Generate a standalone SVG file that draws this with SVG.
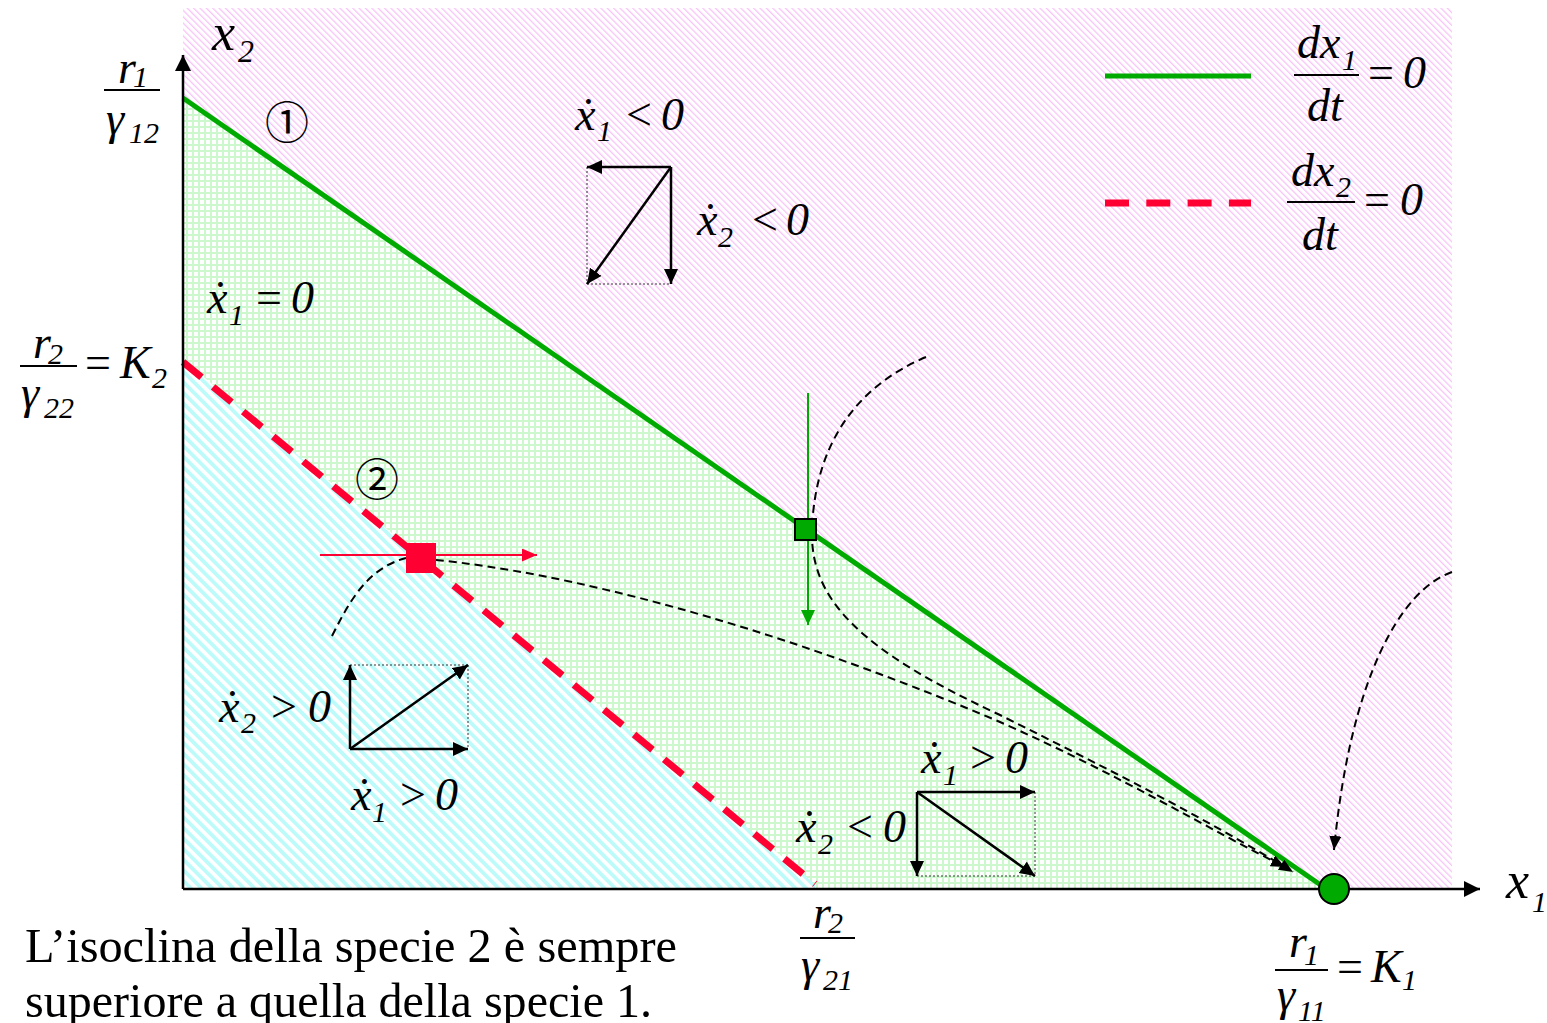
<svg xmlns="http://www.w3.org/2000/svg" width="1547" height="1023" viewBox="0 0 1547 1023" font-family="'Liberation Serif', 'Times New Roman', serif">
<style>
text{font-family:"Liberation Serif","Times New Roman",serif;fill:#000}
.m{font-style:italic;font-size:46px}
.s{font-style:italic;font-size:30px}
.u{font-style:normal;font-size:46px}
.big{font-size:52px}
.c{font-family:"Noto Sans CJK JP","DejaVu Sans",sans-serif;font-size:44px}
.body{font-size:48px}
.fl{stroke:#000;stroke-width:2}
.vec{stroke:#000;stroke-width:2.5;fill:none;marker-end:url(#ah)}
.dot{stroke:#333;stroke-width:1;stroke-dasharray:2 2;fill:none}
.traj{stroke:#000;stroke-width:2;stroke-dasharray:8 5;fill:none}
</style>
<defs>
<pattern id="pk" width="4.5" height="4.5" patternUnits="userSpaceOnUse" patternTransform="rotate(-45)">
<rect width="4.5" height="4.5" fill="#fff"/><rect width="1.3" height="4.5" fill="#f7c4f7"/>
</pattern>
<pattern id="gr" width="6" height="6" patternUnits="userSpaceOnUse">
<rect width="6" height="6" fill="#fff"/><rect width="6" height="2" fill="#cdf8cd"/><rect width="2" height="6" fill="#cdf8cd"/>
</pattern>
<pattern id="cy" width="7.5" height="7.5" patternUnits="userSpaceOnUse" patternTransform="rotate(-45)">
<rect width="7.5" height="7.5" fill="#fff"/><rect width="3.8" height="7.5" fill="#bdfafa"/>
</pattern>
<marker id="ah" markerUnits="userSpaceOnUse" markerWidth="16" markerHeight="16" refX="15" refY="7" orient="auto"><path d="M0,0 L15,7 L0,14 z" fill="#000"/></marker>
<marker id="ax" markerUnits="userSpaceOnUse" markerWidth="18" markerHeight="18" refX="16" refY="8" orient="auto"><path d="M0,0 L16,8 L0,16 z" fill="#000"/></marker>
<marker id="at" markerUnits="userSpaceOnUse" markerWidth="16" markerHeight="14" refX="14" refY="6" orient="auto"><path d="M0,0 L14,6 L0,12 z" fill="#000"/></marker>
<marker id="ar" markerUnits="userSpaceOnUse" markerWidth="16" markerHeight="14" refX="15" refY="6.5" orient="auto"><path d="M0,0 L15,6.5 L0,13 z" fill="#ff0033"/></marker>
<marker id="ag" markerUnits="userSpaceOnUse" markerWidth="16" markerHeight="14" refX="15" refY="7" orient="auto"><path d="M0,0 L15,7 L0,14 z" fill="#00aa00"/></marker>
</defs>

<g id="regions">
<rect x="183" y="8" width="1269" height="881" fill="url(#pk)"/>
<polygon points="183,98 1325,889 183,889" fill="url(#gr)"/>
<polygon points="183,360 815,884 815,889 183,889" fill="url(#cy)"/>
</g>

<g id="isoclines">
<line x1="183" y1="98" x2="1325" y2="888" stroke="#00aa00" stroke-width="5"/>
<line x1="183" y1="362" x2="815" y2="884" stroke="#ff0033" stroke-width="7" stroke-dasharray="24 15"/>
</g>

<g id="axes">
<line x1="183" y1="889" x2="183" y2="55" stroke="#000" stroke-width="2.5" marker-end="url(#ax)"/>
<line x1="183" y1="889" x2="1480" y2="889" stroke="#000" stroke-width="2.5" marker-end="url(#ax)"/>
</g>

<g id="connectors">
<path class="traj" d="M926,357 C860,385 815,440 812,530 C810,600 860,650 1000,715 C1100,765 1200,815 1293,872" marker-end="url(#at)"/>
<path class="traj" d="M436,560 C560,572 760,620 1000,722 C1120,775 1210,830 1285,867" marker-end="url(#at)"/>
<path class="traj" d="M332,636 C350,600 368,568 406,558"/>
<path class="traj" d="M1452,572 C1400,590 1350,680 1334,850" marker-end="url(#at)"/>
<line x1="320" y1="555" x2="537" y2="555" stroke="#ff0033" stroke-width="2" marker-end="url(#ar)"/>
<line x1="808" y1="393" x2="808" y2="625" stroke="#00aa00" stroke-width="2" marker-end="url(#ag)"/>
</g>

<g id="eq-red"><rect x="406" y="543" width="30" height="30" fill="#ff0033"/></g>
<g id="eq-green-sq"><rect x="795" y="519" width="21" height="21" fill="#00aa00" stroke="#000" stroke-width="2"/></g>
<g id="eq-green-dot"><circle cx="1334" cy="889" r="15" fill="#00aa00" stroke="#000" stroke-width="2"/></g>

<g id="vec-top">
<line class="dot" x1="587" y1="167" x2="587" y2="284"/>
<line class="dot" x1="587" y1="284" x2="671" y2="284"/>
<line class="vec" x1="671" y1="167" x2="587" y2="167"/>
<line class="vec" x1="671" y1="167" x2="671" y2="284"/>
<line class="vec" x1="671" y1="167" x2="587" y2="284"/>
</g>
<g id="vec-left">
<line class="dot" x1="350" y1="665" x2="468" y2="665"/>
<line class="dot" x1="468" y1="665" x2="468" y2="749"/>
<line class="vec" x1="350" y1="749" x2="350" y2="665"/>
<line class="vec" x1="350" y1="749" x2="468" y2="749"/>
<line class="vec" x1="350" y1="749" x2="468" y2="665"/>
</g>
<g id="vec-right">
<line class="dot" x1="1035" y1="792" x2="1035" y2="876"/>
<line class="dot" x1="917" y1="876" x2="1035" y2="876"/>
<line class="vec" x1="917" y1="792" x2="1035" y2="792"/>
<line class="vec" x1="917" y1="792" x2="917" y2="876"/>
<line class="vec" x1="917" y1="792" x2="1035" y2="876"/>
</g>

<g id="legend">
<line x1="1105" y1="76" x2="1251" y2="76" stroke="#00aa00" stroke-width="5"/>
<line x1="1105" y1="203" x2="1251" y2="203" stroke="#ff0033" stroke-width="7" stroke-dasharray="24 17.3"/>
<text class="m"><tspan x="1297" y="58">dx</tspan><tspan class="s" x="1342" y="70">1</tspan><tspan x="1307" y="121">dt</tspan><tspan class="u" x="1368" y="88">=</tspan><tspan x="1403" y="88">0</tspan></text>
<line class="fl" x1="1294" y1="75" x2="1359" y2="75"/>
<text class="m"><tspan x="1291" y="186">dx</tspan><tspan class="s" x="1336" y="197">2</tspan><tspan x="1302" y="250">dt</tspan><tspan class="u" x="1364" y="215">=</tspan><tspan x="1400" y="215">0</tspan></text>
<line class="fl" x1="1287" y1="202" x2="1355" y2="202"/>
</g>

<g id="labels">
<text class="m"><tspan class="big" x="212" y="50">x</tspan><tspan class="s" x="238" y="62" style="font-size:32px">2</tspan></text>
<text class="m"><tspan class="big" x="1506" y="898">x</tspan><tspan class="s" x="1532" y="912">1</tspan></text>

<text class="m"><tspan x="118" y="83">r</tspan><tspan class="s" x="133" y="87">1</tspan><tspan x="106" y="134">γ</tspan><tspan class="s" x="129" y="143">12</tspan></text>
<line class="fl" x1="104" y1="90" x2="160" y2="90"/>

<text class="m"><tspan x="33" y="358">r</tspan><tspan class="s" x="48" y="364">2</tspan><tspan x="21" y="408">γ</tspan><tspan class="s" x="44" y="418">22</tspan><tspan class="u" x="85" y="378">=</tspan><tspan x="120" y="378">K</tspan><tspan class="s" x="152" y="388">2</tspan></text>
<line class="fl" x1="20" y1="366" x2="77" y2="366"/>

<text class="m"><tspan x="813" y="928">r</tspan><tspan class="s" x="828" y="933">2</tspan><tspan x="801" y="980">γ</tspan><tspan class="s" x="823" y="990">21</tspan></text>
<line class="fl" x1="800" y1="938" x2="855" y2="938"/>

<text class="m"><tspan x="1289" y="957">r</tspan><tspan class="s" x="1304" y="965">1</tspan><tspan x="1277" y="1010">γ</tspan><tspan class="s" x="1298" y="1021">11</tspan><tspan class="u" x="1337" y="982">=</tspan><tspan x="1371" y="982">K</tspan><tspan class="s" x="1402" y="990">1</tspan></text>
<line class="fl" x1="1275" y1="970" x2="1328" y2="970"/>

<text class="c" x="287" y="139" text-anchor="middle">①</text>
<text class="c" x="377" y="496" text-anchor="middle">②</text>

<text class="m"><tspan x="575" y="130">ẋ</tspan><tspan class="s" x="597" y="141">1</tspan><tspan class="u" x="626" y="130">&lt;</tspan><tspan x="661" y="130">0</tspan></text>
<text class="m"><tspan x="697" y="235">ẋ</tspan><tspan class="s" x="718" y="247">2</tspan><tspan class="u" x="752" y="235">&lt;</tspan><tspan x="786" y="235">0</tspan></text>
<text class="m"><tspan x="207" y="313">ẋ</tspan><tspan class="s" x="229" y="325">1</tspan><tspan class="u" x="256" y="313">=</tspan><tspan x="291" y="313">0</tspan></text>
<text class="m"><tspan x="219" y="722">ẋ</tspan><tspan class="s" x="241" y="733">2</tspan><tspan class="u" x="271" y="722">&gt;</tspan><tspan x="308" y="722">0</tspan></text>
<text class="m"><tspan x="351" y="810">ẋ</tspan><tspan class="s" x="372" y="822">1</tspan><tspan class="u" x="400" y="810">&gt;</tspan><tspan x="435" y="810">0</tspan></text>
<text class="m"><tspan x="921" y="773">ẋ</tspan><tspan class="s" x="943" y="785">1</tspan><tspan class="u" x="970" y="773">&gt;</tspan><tspan x="1005" y="773">0</tspan></text>
<text class="m"><tspan x="796" y="842">ẋ</tspan><tspan class="s" x="818" y="854">2</tspan><tspan class="u" x="847" y="842">&lt;</tspan><tspan x="883" y="842">0</tspan></text>

<text class="body" x="25" y="962" textLength="652" lengthAdjust="spacingAndGlyphs">L’isoclina della specie 2 è sempre</text>
<text class="body" x="25" y="1017" textLength="627" lengthAdjust="spacingAndGlyphs">superiore a quella della specie 1.</text>
</g>
</svg>
